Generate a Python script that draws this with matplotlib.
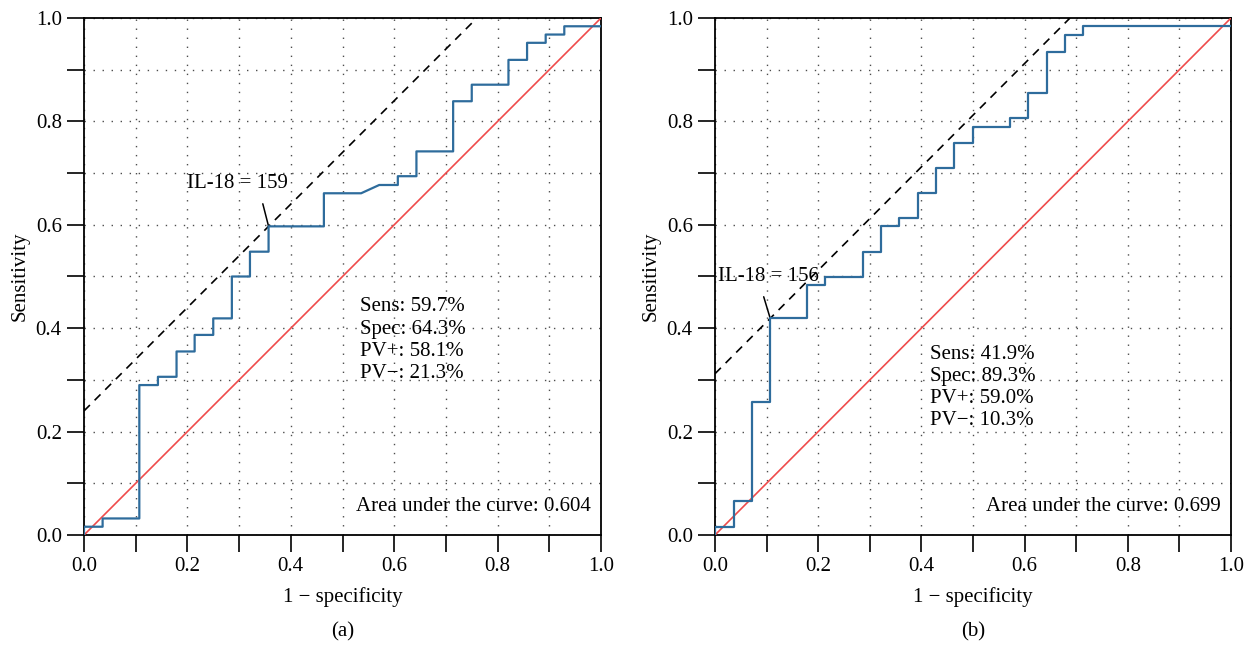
#!/usr/bin/env python3

import numpy as np
import matplotlib
matplotlib.use("Agg")
import matplotlib.pyplot as plt
from matplotlib.ticker import MultipleLocator

plt.rcParams['font.family'] = ['Liberation Serif', 'DejaVu Serif']
plt.rcParams['font.size'] = 15

# ROC vertices (1 - specificity, sensitivity), panel (a)
fpr_a = [0.0, 0.0, 0.036, 0.036, 0.107, 0.107, 0.143, 0.143, 0.179, 0.179,
         0.214, 0.214, 0.25, 0.25, 0.286, 0.286, 0.321, 0.321, 0.357, 0.357,
         0.464, 0.464, 0.536, 0.571, 0.607, 0.607, 0.643, 0.643, 0.714, 0.714,
         0.75, 0.75, 0.821, 0.821, 0.857, 0.857, 0.893, 0.893, 0.929, 0.929, 1.0]
tpr_a = [0.0, 0.016, 0.016, 0.032, 0.032, 0.290, 0.290, 0.306, 0.306, 0.355,
         0.355, 0.387, 0.387, 0.419, 0.419, 0.5, 0.5, 0.548, 0.548, 0.597,
         0.597, 0.661, 0.661, 0.677, 0.677, 0.694, 0.694, 0.742, 0.742, 0.839,
         0.839, 0.871, 0.871, 0.919, 0.919, 0.952, 0.952, 0.968, 0.968, 0.984, 0.984]

# panel (b)
fpr_b = [0.0, 0.0, 0.036, 0.036, 0.071, 0.071, 0.107, 0.107, 0.179, 0.179,
         0.214, 0.214, 0.286, 0.286, 0.321, 0.321, 0.357, 0.357, 0.393, 0.393,
         0.429, 0.429, 0.464, 0.464, 0.5, 0.5, 0.571, 0.571, 0.607, 0.607,
         0.643, 0.643, 0.679, 0.679, 0.714, 0.714, 1.0]
tpr_b = [0.0, 0.016, 0.016, 0.065, 0.065, 0.258, 0.258, 0.419, 0.419, 0.484,
         0.484, 0.5, 0.5, 0.548, 0.548, 0.597, 0.597, 0.613, 0.613, 0.661,
         0.661, 0.710, 0.710, 0.758, 0.758, 0.790, 0.790, 0.806, 0.806, 0.855,
         0.855, 0.935, 0.935, 0.968, 0.968, 0.984, 0.984]

# optimal cut-off points
cut_a = (0.357, 0.597)
cut_b = (0.107, 0.419)
cut_label_a = "IL-18 = 159"
cut_label_b = "IL-18 = 156"

stats_a = ["Sens: 59.7%", "Spec: 64.3%", "PV+: 58.1%", "PV\u2212: 21.3%"]
stats_b = ["Sens: 41.9%", "Spec: 89.3%", "PV+: 59.0%", "PV\u2212: 10.3%"]
auc_a = "Area under the curve: 0.604"
auc_b = "Area under the curve: 0.699"

ticks = [0.0, 0.2, 0.4, 0.6, 0.8, 1.0]
tick_labels = ["0.0", "0.2", "0.4", "0.6", "0.8", "1.0"]

fig = plt.figure(figsize=(12.52, 6.48), dpi=100)
ax_a = fig.add_axes([84 / 1252, 113 / 648, 517 / 1252, 517 / 648])
ax_b = fig.add_axes([715 / 1252, 113 / 648, 516 / 1252, 517 / 648])

panels = [
    (ax_a, fpr_a, tpr_a, cut_a, cut_label_a, (0.20, 0.68), (0.72, 0.0), stats_a, (0.534, 0.377), auc_a, "(a)"),
    (ax_b, fpr_b, tpr_b, cut_b, cut_label_b, (0.006, 0.50), (0.42, 0.0), stats_b, (0.416, 0.285), auc_b, "(b)"),
]

for ax, fpr, tpr, cut, cut_label, txt_pos, relpos, stats, stats_pos, auc, tag in panels:
    ax.set_xlim(0, 1)
    ax.set_ylim(0, 1)

    # grid every 0.1, labels every 0.2
    ax.xaxis.set_minor_locator(MultipleLocator(0.1))
    ax.yaxis.set_minor_locator(MultipleLocator(0.1))
    ax.set_xticks(ticks)
    ax.set_xticklabels(tick_labels)
    ax.set_yticks(ticks)
    ax.set_yticklabels(tick_labels)
    ax.tick_params(which='both', direction='out', length=12, width=1.2, pad=4,
                   top=False, right=False)
    ax.grid(which='both', color='0.3', linestyle=(0, (1, 5.5)), linewidth=1.0)
    for s in ax.spines.values():
        s.set_linewidth(1.3)

    ax.plot([0, 1], [0, 1], color='#ef4b4b', lw=1.2, zorder=3)
    ax.axline(cut, slope=1, color='black', lw=1.2, linestyle=(0, (5, 4)), zorder=3)
    ax.plot(fpr, tpr, color='#2e6c9c', lw=1.6, zorder=4)

    ax.annotate(cut_label, xy=cut, xytext=txt_pos, ha='left', va='center',
                arrowprops=dict(arrowstyle='-', color='black', lw=1.1,
                                relpos=relpos, shrinkA=6, shrinkB=0))

    ax.text(stats_pos[0], stats_pos[1], "\n".join(stats), ha='left', va='center',
            linespacing=1.22)
    ax.text(0.98, 0.056, auc, ha='right', va='center')

    ax.set_xlabel("1 \u2212 specificity", labelpad=8)
    ax.set_ylabel("Sensitivity", labelpad=4)

fig.text((84 + 601) / 2 / 1252, 1 - 632 / 648, "(a)", ha='center', va='center')
fig.text((715 + 1231) / 2 / 1252, 1 - 632 / 648, "(b)", ha='center', va='center')

fig.savefig("out.png", dpi=100)
